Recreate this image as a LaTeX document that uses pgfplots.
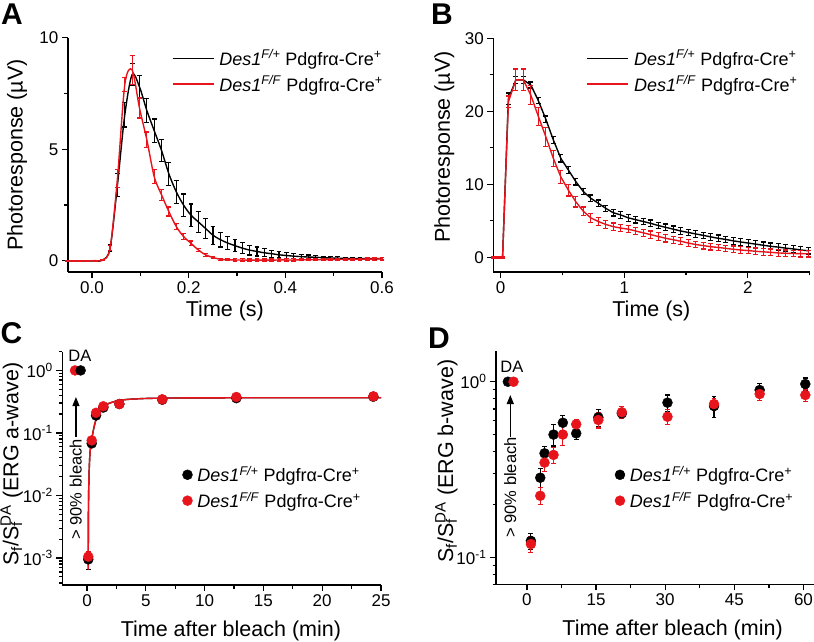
\documentclass[border=0pt]{standalone}
\usepackage{fontspec}
\setmainfont{Liberation Sans}
\usepackage{pgfplots}
\usepackage{pgfplotstable}
\pgfplotsset{compat=1.18}
\usetikzlibrary{arrows.meta}
\definecolor{myred}{RGB}{232,20,28}

\pgfplotstableread{
t yb eb yr er
-0.05 0 0.02 0 0.02
-0.0385 0 0.02 0 0.02
-0.0233 0 0.02 0 0.02
-0.0081 0 0.02 0 0.02
0.0071 0 0.02 0.01 0.02
0.0223 0.03 0.03 0.03 0.03
0.0375 0.57 0.15 0.57 0.12
0.0527 3.4 0.5 3.7 0.4
0.0679 6.55 0.55 7.9 0.32
0.0831 8.35 0.5 8.56 0.65
0.0983 7.8 0.52 6.85 0.45
0.1135 6.74 0.55 5.43 0.35
0.1287 5.84 0.52 3.78 0.3
0.1439 4.95 0.5 2.96 0.25
0.1591 3.9 0.52 2.21 0.2
0.1743 3.1 0.52 1.54 0.15
0.1895 2.5 0.5 1.09 0.12
0.2047 2.05 0.5 0.79 0.1
0.2199 1.75 0.48 0.49 0.08
0.2351 1.45 0.45 0.27 0.07
0.2503 1.15 0.4 0.15 0.06
0.2655 0.95 0.33 0.07 0.05
0.2807 0.8 0.3 0.05 0.05
0.2959 0.68 0.27 0.04 0.05
0.3111 0.57 0.25 0.04 0.05
0.3263 0.48 0.22 0.03 0.05
0.3415 0.42 0.2 0.03 0.05
0.3567 0.36 0.18 0.03 0.05
0.3719 0.32 0.16 0.03 0.05
0.3871 0.27 0.14 0.04 0.05
0.4023 0.24 0.12 0.04 0.05
0.4175 0.21 0.11 0.04 0.05
0.4327 0.19 0.1 0.05 0.05
0.4479 0.17 0.09 0.05 0.05
0.4631 0.16 0.08 0.05 0.05
0.4783 0.14 0.07 0.05 0.05
0.4935 0.13 0.06 0.06 0.05
0.5087 0.12 0.06 0.06 0.05
0.5239 0.11 0.05 0.06 0.05
0.5391 0.1 0.05 0.07 0.05
0.5543 0.1 0.05 0.07 0.05
0.5695 0.1 0.05 0.08 0.05
0.5847 0.1 0.05 0.08 0.05
0.5999 0.1 0.05 0.09 0.05
}\dataA

\pgfplotstableread{
t yb eb yr er
-0.06 0 0.1 0 0.1
-0.03 0 0.1 0 0.1
0 0 0.1 0 0.1
0.015 0 0.1 0 0.1
0.062 21.7 0.8 21.3 0.8
0.1227 24.3 0.5 24.3 1.5
0.1834 24.3 0.5 24.3 1.5
0.2441 23.6 0.4 22.2 1.3
0.3048 21.45 0.4 19.3 1.2
0.3655 18.9 0.45 16.5 1.3
0.4262 16.07 0.5 13.55 1.1
0.4869 13.55 0.5 11.0 0.9
0.5476 11.96 0.45 9.2 0.8
0.6083 10.36 0.45 7.6 0.7
0.669 9.0 0.45 6.3 0.6
0.7297 8.08 0.45 5.4 0.6
0.7904 7.4 0.45 4.9 0.55
0.8511 6.7 0.45 4.5 0.55
0.9118 6.1 0.45 4.2 0.5
0.9725 5.8 0.45 4.0 0.5
1.0332 5.4 0.45 3.85 0.5
1.0939 5.15 0.45 3.6 0.5
1.1546 4.9 0.45 3.35 0.5
1.2153 4.65 0.45 3.1 0.5
1.276 4.35 0.45 2.85 0.5
1.3367 4.1 0.45 2.6 0.5
1.3974 3.85 0.45 2.4 0.5
1.4581 3.6 0.45 2.2 0.5
1.5188 3.4 0.45 1.95 0.45
1.5795 3.2 0.45 1.75 0.45
1.6402 3.0 0.45 1.6 0.45
1.7009 2.8 0.45 1.45 0.45
1.7616 2.6 0.45 1.35 0.45
1.8223 2.45 0.45 1.22 0.45
1.883 2.25 0.45 1.1 0.45
1.9437 2.1 0.45 1.0 0.45
2.0044 1.95 0.45 0.92 0.45
2.0651 1.8 0.45 0.82 0.45
2.1258 1.65 0.45 0.75 0.45
2.1865 1.5 0.45 0.68 0.45
2.2472 1.4 0.45 0.6 0.45
2.3079 1.25 0.45 0.55 0.45
2.3686 1.15 0.45 0.52 0.45
2.4293 1.0 0.45 0.5 0.45
2.49 0.9 0.45 0.48 0.45
}\dataB

\pgfplotstableread{
t yb eb yr er
0.11 0.00095 0.0003 0.00105 0.0002
0.4 0.068 0.006 0.076 0.005
0.77 0.19 0.02 0.21 0.015
1.39 0.255 0.02 0.267 0.015
2.75 0.29 0.02 0.29 0.015
6.4 0.34 0.02 0.345 0.015
12.7 0.36 0.02 0.376 0.015
24.35 0.38 0.02 0.385 0.015
}\dataC

\pgfplotstableread{
t y
0.107 0.00065
0.11 0.0015
0.115 0.003
0.125 0.006
0.14 0.011
0.17 0.02
0.21 0.033
0.255 0.048
0.32 0.062
0.4 0.077
0.54 0.11
0.77 0.165
1.1 0.225
1.67 0.285
2.52 0.325
3.37 0.343
4.79 0.355
6.2 0.36
7.9 0.363
12 0.365
25 0.365
}\fitC

\pgfplotstableread{
t yb eb yr er
0.87 0.124 0.013 0.119 0.013
2.9 0.284 0.035 0.224 0.025
3.83 0.391 0.035 0.346 0.037
5.78 0.5 0.07 0.383 0.04
7.8 0.584 0.055 0.5 0.065
10.7 0.508 0.04 0.572 0.035
15.5 0.627 0.07 0.605 0.06
20.6 0.66 0.04 0.67 0.05
30.5 0.76 0.08 0.632 0.06
40.6 0.727 0.1 0.746 0.06
50.5 0.897 0.08 0.851 0.07
60.4 0.97 0.08 0.84 0.07
}\dataD

\newcommand{\leg}[1]{\textit{Des1}\textsuperscript{\textit{#1}} Pdgfrα-Cre\textsuperscript{+}}

\pgfplotsset{
  base/.style={
    scale only axis, anchor=south west, clip=false,
    axis x line*=bottom, axis y line*=left,
    axis line style={-, line width=1.4pt},
    tick align=outside, major tick length=6pt, minor tick length=3.5pt,
    every tick/.style={black, line width=1.3pt},
    tick label style={font=\fontsize{17}{19}\selectfont},
    label style={font=\fontsize{21.5}{24}\selectfont},
    legend style={draw=none, fill=none, inner sep=0pt, row sep=5pt,
      font=\fontsize{18}{20}\selectfont, column sep=3pt},
    legend cell align=left,
    error bars/error bar style={line width=1.2pt},
    error bars/error mark options={rotate=90, mark size=2.4pt, line width=1.2pt},
  },
  linelegend/.style={legend image code/.code={\draw[##1,line width=1.4pt] (0pt,0pt) -- (41pt,0pt);}},
  marklegend/.style={legend image code/.code={\draw[##1] plot coordinates {(0pt,0pt)};}},
}

\begin{document}
\begin{tikzpicture}
\useasboundingbox (0,0) rectangle (814pt,641pt);

% Panel A
\begin{axis}[base, linelegend, at={(67.8pt,369pt)}, width=314.2pt, height=234.2pt,
  xmin=-0.05, xmax=0.6, ymin=-0.5, ymax=10,
  xtick={0,0.2,0.4,0.6}, xticklabels={0.0,0.2,0.4,0.6}, minor xtick={0.1,0.3,0.5},
  ytick={0,5,10}, yticklabels={0,5,10}, minor ytick={2.5,7.5},
  xlabel={Time (s)}, ylabel={Photoresponse (µV)},
  xlabel style={at={(axis description cs:0.5,0)}, anchor=base, yshift=-45pt},
  ylabel style={at={(axis description cs:-0.1435,0.5)}, anchor=base, rotate=0},
  legend style={at={(axis description cs:0.331,0.958)}, anchor=north west}]
\addplot[black, line width=1.4pt, smooth, error bars/.cd, y dir=both, y explicit] table[x=t, y=yb, y error=eb] {\dataA};
\addlegendentry{\leg{F/+}}
\addplot[myred, line width=1.4pt, smooth, error bars/.cd, y dir=both, y explicit] table[x=t, y=yr, y error=er] {\dataA};
\addlegendentry{\leg{F/F}}
\end{axis}

% Panel B
\begin{axis}[base, linelegend, at={(493.3pt,369.1pt)}, width=316.2pt, height=233.6pt,
  xmin=-0.06, xmax=2.5, ymin=-2, ymax=30,
  xtick={0,1,2}, xticklabels={0,1,2}, minor xtick={0.5,1.5,2.5},
  ytick={0,10,20,30}, yticklabels={0,10,20,30}, minor ytick={5,15,25},
  xlabel={Time (s)}, ylabel={Photoresponse (µV)},
  xlabel style={at={(axis description cs:0.5,0)}, anchor=base, yshift=-45pt},
  ylabel style={at={(axis description cs:-0.137,0.535)}, anchor=base},
  legend style={at={(axis description cs:0.295,0.96)}, anchor=north west}]
\addplot[black, line width=1.4pt, error bars/.cd, y dir=both, y explicit] table[x=t, y=yb, y error=eb] {\dataB};
\addlegendentry{\leg{F/+}}
\addplot[myred, line width=1.4pt, error bars/.cd, y dir=both, y explicit] table[x=t, y=yr, y error=er] {\dataB};
\addlegendentry{\leg{F/F}}
\end{axis}

% Panel C
\begin{axis}[base, marklegend, at={(62.3pt,56pt)}, width=318.7pt, height=233.4pt,
  ymode=log, xmin=-2.1, xmax=25, ymin=3.7e-4, ymax=2,
  xtick={0,5,10,15,20,25}, xticklabels={0,5,10,15,20,25}, minor xtick={2.5,7.5,12.5,17.5,22.5},
  ytick={1e-3,1e-2,1e-1,1}, yticklabels={10\textsuperscript{-3},10\textsuperscript{-2},10\textsuperscript{-1},10\textsuperscript{0}},
  minor ytick={4e-4,5e-4,6e-4,7e-4,8e-4,9e-4,2e-3,3e-3,4e-3,5e-3,6e-3,7e-3,8e-3,9e-3,2e-2,3e-2,4e-2,5e-2,6e-2,7e-2,8e-2,9e-2,0.2,0.3,0.4,0.5,0.6,0.7,0.8,0.9,2},
  xlabel={Time after bleach (min)}, ylabel={S\textsubscript{f}/S\rlap{\textsubscript{f}}\textsuperscript{DA} (ERG a-wave)},
  xlabel style={at={(axis description cs:0.529,0)}, anchor=base, yshift=-51pt},
  ylabel style={at={(axis description cs:-0.138,0.518)}, anchor=base},
  legend style={at={(axis description cs:0.3765,0.518)}, anchor=north west}]
\addplot[black, only marks, mark=*, mark size=5pt, error bars/.cd, y dir=both, y explicit] table[x=t, y=yb, y error=eb] {\dataC};
\addlegendentry{\leg{F/+}}
\addplot[myred, only marks, mark=*, mark size=5pt, error bars/.cd, y dir=both, y explicit] table[x=t, y=yr, y error=er] {\dataC};
\addlegendentry{\leg{F/F}}
\addplot[black, line width=1.4pt, smooth, forget plot] table[x=t, y=y] {\fitC};
\addplot[myred, line width=1.4pt, smooth, forget plot] table[x=t, y=y] {\fitC};
\addplot[myred, only marks, mark=*, mark size=5pt, forget plot] coordinates {(-1.02,1)};
\addplot[black, only marks, mark=*, mark size=5pt, forget plot] coordinates {(-0.54,1)};
\node[font=\fontsize{16.5}{18}\selectfont] at (axis cs:-0.6,1.73) {DA};
\draw[-{Triangle[length=9pt,width=7pt]}, line width=1.2pt] (axis cs:-0.94,0.087) -- (axis cs:-0.94,0.375);
\node[rotate=90, font=\fontsize{16.5}{18}\selectfont] at (axis cs:-0.95,0.0125) {> 90\% bleach};
\end{axis}

% Panel D
\begin{axis}[base, marklegend, at={(496pt,56.5pt)}, width=317.6pt, height=233.7pt,
  ymode=log, xmin=-6.7, xmax=62.2, ymin=0.07, ymax=1.5,
  xtick={0,15,30,45,60}, xticklabels={0,15,30,45,60}, minor xtick={7.5,22.5,37.5,52.5},
  ytick={0.1,1}, yticklabels={10\textsuperscript{-1},10\textsuperscript{0}},
  minor ytick={0.07,0.08,0.09,0.2,0.3,0.4,0.5,0.6,0.7,0.8,0.9},
  xlabel={Time after bleach (min)}, ylabel={S\textsubscript{f}/S\rlap{\textsubscript{f}}\textsuperscript{DA} (ERG b-wave)},
  xlabel style={at={(axis description cs:0.556,0)}, anchor=base, yshift=-51pt},
  ylabel style={at={(axis description cs:-0.135,0.528)}, anchor=base},
  legend style={at={(axis description cs:0.374,0.515)}, anchor=north west}]
\addplot[black, only marks, mark=*, mark size=5pt, error bars/.cd, y dir=both, y explicit] table[x=t, y=yb, y error=eb] {\dataD};
\addlegendentry{\leg{F/+}}
\addplot[myred, only marks, mark=*, mark size=5pt, error bars/.cd, y dir=both, y explicit] table[x=t, y=yr, y error=er] {\dataD};
\addlegendentry{\leg{F/F}}
\addplot[black, only marks, mark=*, mark size=5pt, forget plot] coordinates {(-4.13,1)};
\addplot[myred, only marks, mark=*, mark size=5pt, forget plot] coordinates {(-2.9,1)};
\node[font=\fontsize{16.5}{18}\selectfont] at (axis cs:-3.25,1.21) {DA};
\draw[-{Triangle[length=9pt,width=7pt]}, line width=1.2pt] (axis cs:-3.6,0.486) -- (axis cs:-3.6,0.84);
\node[rotate=90, font=\fontsize{16.5}{18}\selectfont] at (axis cs:-3.6,0.25) {> 90\% bleach};
\end{axis}

\node[anchor=base west, inner sep=0pt, font=\fontsize{30}{30}\selectfont\bfseries] at (1pt,616pt) {A};
\node[anchor=base west, inner sep=0pt, font=\fontsize{30}{30}\selectfont\bfseries] at (431pt,616pt) {B};
\node[anchor=base west, inner sep=0pt, font=\fontsize{30}{30}\selectfont\bfseries] at (0.5pt,298pt) {C};
\node[anchor=base west, inner sep=0pt, font=\fontsize{30}{30}\selectfont\bfseries] at (428pt,293pt) {D};
\end{tikzpicture}
\end{document}
